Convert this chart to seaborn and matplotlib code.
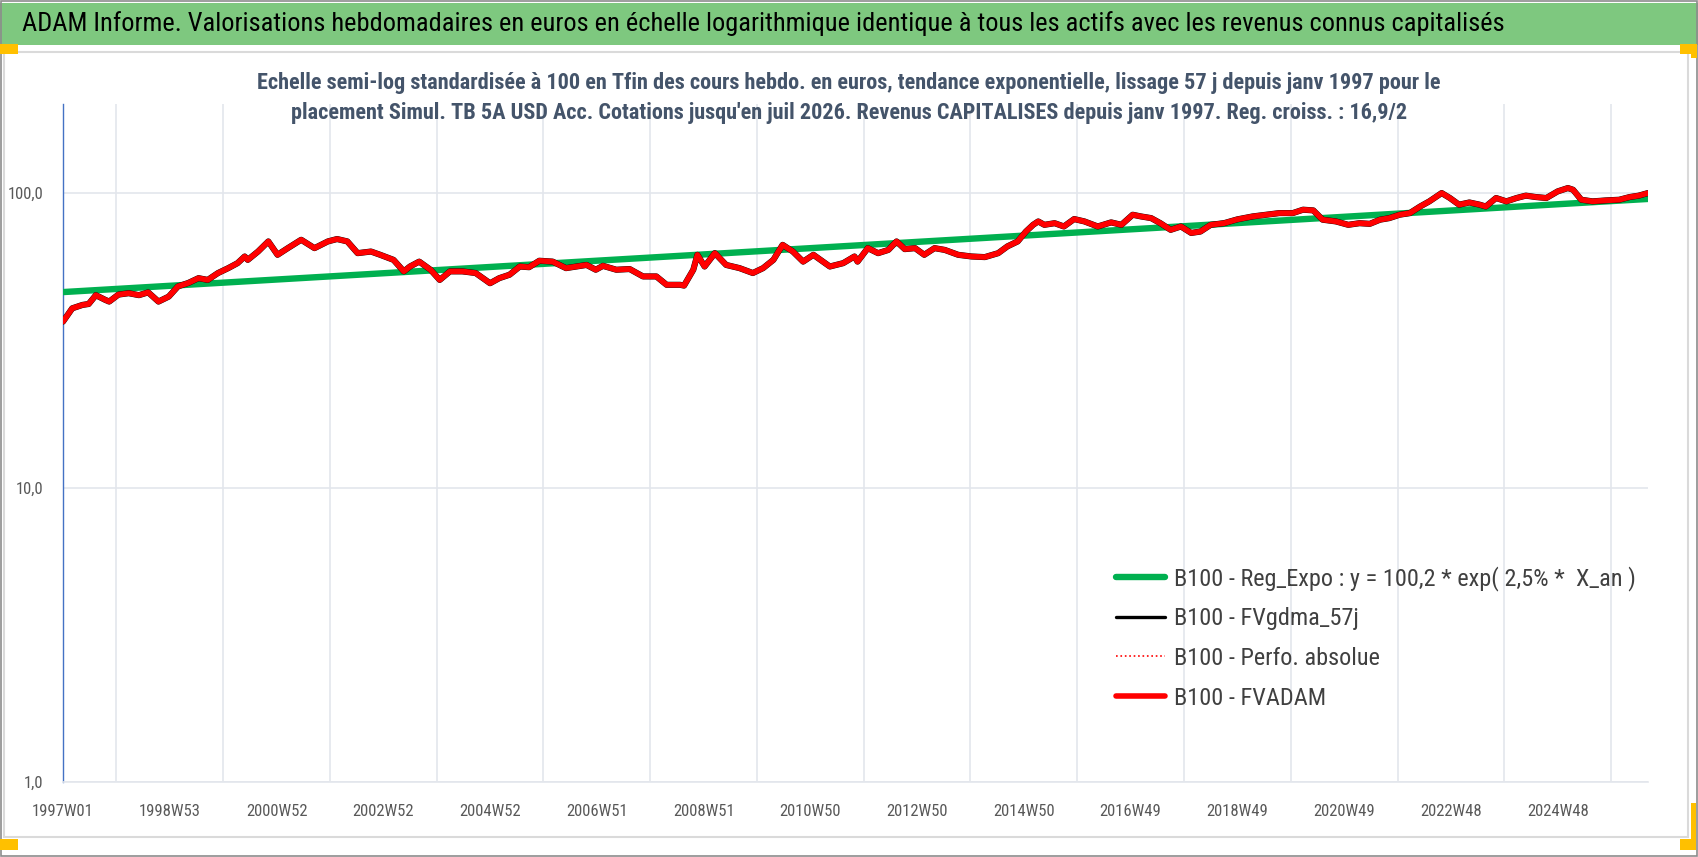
import matplotlib
matplotlib.use("Agg")
import matplotlib.pyplot as plt
from matplotlib import font_manager
from matplotlib.lines import Line2D
from matplotlib.patches import Rectangle
import pandas as pd
import seaborn as sns

# textes
titre = ("ADAM Informe. Valorisations hebdomadaires en euros en échelle logarithmique "
         "identique à tous les actifs avec les revenus connus capitalisés")
sous_titre = ("Echelle semi-log standardisée à 100 en Tfin des cours hebdo. en euros, tendance exponentielle, "
              "lissage 57 j depuis janv 1997 pour le\nplacement Simul. TB 5A USD Acc. Cotations jusqu'en juil 2026. "
              "Revenus CAPITALISES depuis janv 1997. Reg. croiss. : 16,9/2")
noms_series = ["B100 - Reg_Expo : y = 100,2 * exp( 2,5% *  X_an )",
               "B100 - FVgdma_57j",
               "B100 - Perfo. absolue",
               "B100 - FVADAM"]

# axe des semaines (index de semaine depuis 1997W01)
nb_semaines = 1545
pos_etiquettes = [0, 104, 208, 312, 416, 520, 624, 728, 832, 936, 1040, 1144, 1248, 1352, 1456]
etiquettes = ["1997W01", "1998W53", "2000W52", "2002W52", "2004W52", "2006W51", "2008W51",
              "2010W50", "2012W50", "2014W50", "2016W49", "2018W49", "2020W49", "2022W48", "2024W48"]
pos_grille = list(range(0, nb_semaines, 52))

# FVADAM (semaine, valeur base 100)
semaines = [0, 9, 19, 25, 32, 41, 45, 54, 64, 74, 83, 93, 103, 112, 122, 132, 141, 151, 161, 170,
            177, 180, 190, 200, 209, 219, 232, 245, 258, 267, 277, 287, 300, 309, 322, 332, 338, 347,
            358, 367, 377, 389, 402, 416, 425, 435, 445, 454, 464, 477, 490, 510, 519, 526, 539, 552,
            565, 578, 588, 601, 605, 614, 618, 625, 635, 646, 659, 672, 682, 692, 701, 711, 721, 731,
            747, 760, 771, 774, 784, 794, 804, 812, 820, 830, 839, 849, 859, 872, 885, 898, 911, 920,
            930, 938, 945, 950, 956, 966, 975, 985, 995, 1008, 1021, 1031, 1042, 1050, 1060, 1069,
            1079, 1089, 1099, 1108, 1118, 1131, 1144, 1159, 1172, 1185, 1198, 1208, 1218, 1227, 1240,
            1252, 1263, 1273, 1283, 1292, 1302, 1312, 1322, 1331, 1343, 1351, 1360, 1370, 1380, 1386,
            1396, 1406, 1416, 1425, 1435, 1445, 1456, 1466, 1471, 1479, 1490, 1503, 1516, 1526, 1535,
            1544]
fvadam = [36.6, 40.6, 41.7, 42.0, 45.0, 43.4, 42.8, 45.2, 45.7, 45.0, 46.0, 42.8, 44.5, 48.2, 49.5,
          51.4, 50.7, 53.5, 55.6, 57.8, 60.9, 59.3, 63.3, 68.5, 61.7, 65.0, 69.4, 65.0, 68.5, 69.8,
          68.5, 62.5, 63.3, 61.7, 59.3, 54.2, 56.3, 58.5, 54.9, 50.7, 54.2, 54.2, 53.5, 49.4, 51.4,
          52.8, 56.3, 56.0, 58.9, 58.5, 55.6, 57.0, 54.9, 56.6, 54.9, 55.2, 52.1, 52.1, 48.8, 48.8,
          48.5, 54.9, 61.7, 56.3, 62.5, 57.0, 55.6, 53.5, 55.6, 59.3, 66.7, 63.3, 58.5, 61.7, 56.3,
          57.8, 60.9, 58.5, 65.0, 62.5, 64.1, 68.5, 64.5, 65.0, 61.7, 65.0, 64.1, 61.7, 60.9, 60.6,
          62.5, 65.9, 68.5, 74.0, 78.0, 80.1, 78.0, 79.0, 77.0, 81.6, 80.1, 77.0, 79.5, 78.0, 84.4,
          83.3, 82.2, 79.0, 75.0, 77.0, 73.2, 74.0, 78.0, 79.0, 81.4, 83.3, 84.4, 85.5, 85.5, 87.8,
          87.3, 81.2, 80.1, 78.0, 79.0, 78.6, 81.2, 82.2, 84.4, 85.5, 90.0, 93.7, 100.0, 96.2, 91.3,
          92.9, 91.3, 90.0, 96.2, 93.7, 96.2, 98.0, 96.9, 96.2, 101.3, 104.0, 102.6, 94.9, 93.7,
          94.4, 94.9, 96.9, 98.0, 100.0]
fvgdma_57j = list(fvadam)
perfo_absolue = list(fvadam)

# tendance exponentielle : extremites lues
semaines_reg = [0, 1544]
reg_expo = [46.1, 95.5]

sns.set_style("white")
noms = {f.name for f in font_manager.fontManager.ttflist}
police = next((n for n in ["Liberation Sans Narrow", "DejaVu Sans Condensed", "Roboto Condensed",
                            "Open Sans Condensed", "Liberation Sans"] if n in noms), "DejaVu Sans")
plt.rcParams["font.family"] = [police, "DejaVu Sans"]

fig = plt.figure(figsize=(16.98, 8.57), dpi=100)
W, H = 1698.0, 857.0

# bandeau vert et cadre
fig.patches.append(Rectangle((0, 1 - 45 / H), 1, 42 / H, transform=fig.transFigure,
                             facecolor="#7ec87f", edgecolor="none", zorder=0))
fig.patches.append(Rectangle((1 / W, 1 / H), 1 - 2 / W, 1 - 2 / H, transform=fig.transFigure,
                             facecolor="none", edgecolor="#8c8c8c", lw=1.2, zorder=5))
fig.patches.append(Rectangle((4 / W, 1 - 837 / H), (1688 - 4) / W, (837 - 52) / H,
                             transform=fig.transFigure, facecolor="none", edgecolor="#dadada",
                             lw=1.5, zorder=1))
for x0, y0, w, h in [(0, 44, 18, 10), (1680, 44, 17, 10), (1691, 44, 6, 14),
                     (0, 839, 18, 11), (1680, 839, 16, 11), (1691, 803, 5, 47)]:
    fig.patches.append(Rectangle((x0 / W, 1 - (y0 + h) / H), w / W, h / H, transform=fig.transFigure,
                                 facecolor="#ffc000", edgecolor="none", zorder=6))

fig.text(22 / W, 1 - 24 / H, titre, fontsize=19, color="black", ha="left", va="center")
fig.text(0.5, 1 - 98 / H, sous_titre, fontsize=16, color="#44546a", fontweight="bold",
         ha="center", va="center", linespacing=1.5)

ax = fig.add_axes([63 / W, 1 - 782 / H, (1648 - 63) / W, (782 - 104.4) / H])

df_reg = pd.DataFrame({"semaine": semaines_reg, "valeur": reg_expo})
df = pd.DataFrame({"semaine": semaines, "fvadam": fvadam, "gdma": fvgdma_57j, "perfo": perfo_absolue})

sns.lineplot(data=df_reg, x="semaine", y="valeur", ax=ax, color="#00b050", lw=4.6, zorder=3)
sns.lineplot(data=df, x="semaine", y="gdma", ax=ax, color="black", lw=4.4, zorder=4)
sns.lineplot(data=df, x="semaine", y="perfo", ax=ax, color="red", lw=1.2, ls=":", zorder=4)
sns.lineplot(data=df, x="semaine", y="fvadam", ax=ax, color="#ff0000", lw=4.0, zorder=5)

ax.set_yscale("log")
ax.set_ylim(1, 200)
ax.set_xlim(0, nb_semaines - 1)
ax.set_yticks([1, 10, 100])
ax.set_yticklabels(["1,0", "10,0", "100,0"])
ax.minorticks_off()
ax.set_xticks(pos_grille, minor=True)
ax.set_xticks(pos_etiquettes)
ax.set_xticklabels(etiquettes)
ax.set_xlabel("")
ax.set_ylabel("")

grille = "#e3e6ec"
ax.grid(False)
ax.yaxis.grid(True, which="major", color=grille, lw=1.2)
ax.xaxis.grid(True, which="minor", color=grille, lw=1.2)
ax.set_axisbelow(True)
ax.tick_params(axis="x", which="both", length=5, color=grille, width=1.2, labelsize=12,
               labelcolor="#595959", pad=11)
ax.tick_params(axis="y", length=0, labelsize=12, labelcolor="#595959", pad=14)
for c in ["top", "right"]:
    ax.spines[c].set_visible(False)
ax.spines["bottom"].set_color(grille)
ax.spines["bottom"].set_linewidth(1.2)
ax.spines["left"].set_color("#4472c4")
ax.spines["left"].set_linewidth(1.0)

poignees = [Line2D([], [], color="#00b050", lw=4.6),
            Line2D([], [], color="black", lw=2.4),
            Line2D([], [], color="red", lw=1.2, ls=":"),
            Line2D([], [], color="#ff0000", lw=4.0)]
ax.legend(poignees, noms_series, loc="upper left", bbox_to_anchor=(1116 / W, 1 - 566 / H),
          bbox_transform=fig.transFigure, frameon=False, fontsize=17.5, labelcolor="#404040",
          handlelength=2.0, handletextpad=0.4, labelspacing=0.68, borderpad=0, borderaxespad=0)

fig.savefig("out.png", dpi=100)
